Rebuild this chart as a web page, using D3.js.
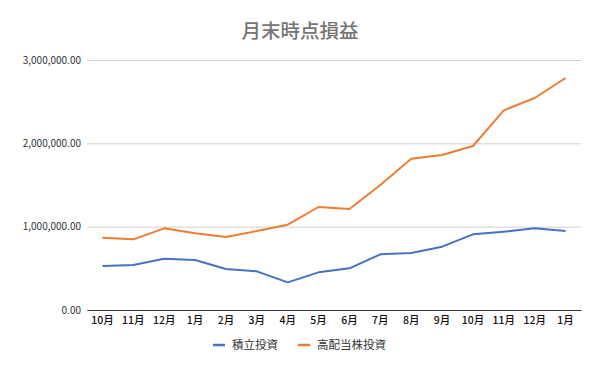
<!DOCTYPE html>
<html><head><meta charset="utf-8">
<script src="https://cdn.jsdelivr.net/npm/d3@7"></script>
<style>body{margin:0;background:#fff}svg{display:block}</style>
</head><body>
<script>
const categories = ["10月","11月","12月","1月","2月","3月","4月","5月","6月","7月","8月","9月","10月","11月","12月","1月"];
const tsumitate = [528000,540000,616000,600000,492000,464000,332000,452000,500000,668000,684000,760000,908000,940000,980000,948000];
const kohaito = [867000,848000,980000,920000,876000,948000,1024000,1236000,1212000,1500000,1816000,1860000,1968000,2396000,2544000,2784000];
const yTicks = [0,1000000,2000000,3000000];
const seriesNames = ["積立投資","高配当株投資"];
const colors = ["#4472C4","#ED7D31"];
const title = "月末時点損益";

const W=600,H=371;
const m={l:87,r:19,t:60,b:61};
const svg=d3.select("body").append("svg").attr("width",W).attr("height",H);
const font="'Noto Sans CJK JP','Noto Sans',sans-serif";
const x=d3.scaleBand().domain(d3.range(categories.length)).range([m.l,W-m.r]);
const y=d3.scaleLinear().domain([0,3000000]).range([H-m.b,m.t]);

svg.append("text").attr("x",300).attr("y",38).attr("text-anchor","middle")
  .attr("font-family",font).attr("font-size",19.5).attr("font-weight",500).attr("fill","#757575").text(title);

const ya=svg.append("g").attr("transform",`translate(${m.l},0)`)
  .call(d3.axisLeft(y).tickValues(yTicks).tickSize(-(W-m.l-m.r)).tickPadding(6)
  .tickFormat(d=>d3.format(",.2f")(d)));
ya.select(".domain").remove();
ya.selectAll("line").attr("stroke","#d0d0d0");
ya.selectAll("text").attr("font-family",font).attr("font-size",10).attr("fill","#333");

const xa=svg.append("g").attr("transform",`translate(0,${H-m.b})`)
  .call(d3.axisBottom(x).tickSize(0).tickPadding(7).tickFormat(i=>categories[i]));
xa.select(".domain").attr("stroke","#333");
xa.selectAll("text").attr("font-family",font).attr("font-size",10.5).attr("font-weight",500).attr("fill","#111");

const line=d3.line().x((d,i)=>x(i)+x.bandwidth()/2).y(d=>y(d));
[tsumitate,kohaito].forEach((s,k)=>{
  svg.append("path").datum(s).attr("d",line).attr("fill","none")
    .attr("stroke",colors[k]).attr("stroke-width",2).attr("stroke-linejoin","round");
});

const lg=svg.append("g");
const lx=[213,298];
seriesNames.forEach((n,k)=>{
  lg.append("line").attr("x1",lx[k]).attr("x2",lx[k]+12).attr("y1",345).attr("y2",345)
    .attr("stroke",colors[k]).attr("stroke-width",2.5);
  lg.append("text").attr("x",lx[k]+19).attr("y",349).attr("font-family",font)
    .attr("font-size",11.5).attr("fill","#333").text(n);
});
</script>
</body></html>
